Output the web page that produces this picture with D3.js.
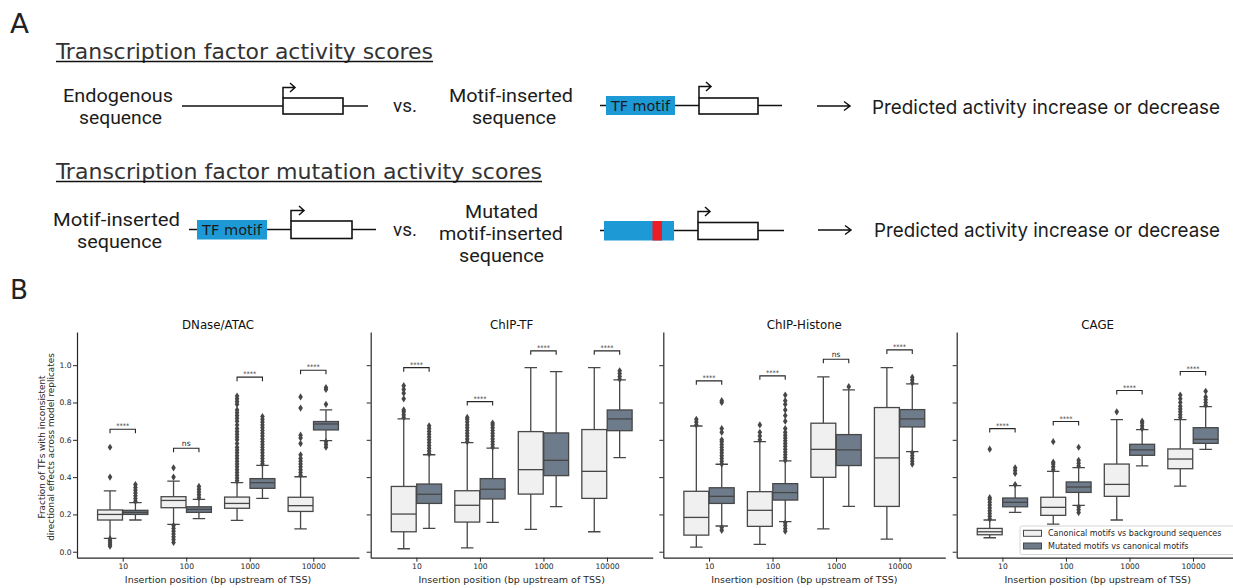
<!DOCTYPE html>
<html>
<head>
<meta charset="utf-8">
<script src="https://cdn.jsdelivr.net/npm/d3@7"></script>
<style>
  body { margin: 0; background: #fff; }
  svg { display: block; }
</style>
</head>
<body>
<svg id="fig" width="1233" height="588"></svg>
<script>
// ---------- data ----------
const positions = ['10', '100', '1000', '10000'];
const assays = ['DNase/ATAC', 'ChIP-TF', 'ChIP-Histone', 'CAGE'];
const groups = ['Canonical motifs vs background sequences', 'Mutated motifs vs canonical motifs'];
const yTicks = [0, 0.2, 0.4, 0.6, 0.8, 1.0];

// box stats per insertion position: [whisker low, q1, median, q3, whisker high]
const dnaseCanonical = [[0.072, 0.17, 0.20, 0.224, 0.326], [0.147, 0.236, 0.275, 0.295, 0.379], [0.168, 0.233, 0.259, 0.293, 0.37], [0.123, 0.216, 0.247, 0.292, 0.402]];
const dnaseMutated = [[0.17, 0.20, 0.211, 0.222, 0.263], [0.177, 0.211, 0.227, 0.241, 0.281], [0.286, 0.34, 0.37, 0.392, 0.463], [0.596, 0.653, 0.685, 0.698, 0.76]];
const chipTfCanonical = [[0.016, 0.107, 0.202, 0.35, 0.712], [0.021, 0.159, 0.249, 0.327, 0.585], [0.12, 0.309, 0.44, 0.644, 0.987], [0.107, 0.286, 0.431, 0.655, 0.987]];
const chipTfMutated = [[0.125, 0.259, 0.308, 0.363, 0.52], [0.157, 0.283, 0.335, 0.392, 0.555], [0.242, 0.408, 0.49, 0.637, 0.966], [0.504, 0.649, 0.712, 0.76, 0.921]];
const histoneCanonical = [[0.025, 0.089, 0.184, 0.324, 0.674], [0.039, 0.136, 0.222, 0.322, 0.59], [0.123, 0.399, 0.549, 0.689, 0.937], [0.068, 0.243, 0.503, 0.773, 0.987]];
const histoneMutated = [[0.138, 0.259, 0.297, 0.343, 0.469], [0.161, 0.277, 0.317, 0.365, 0.487], [0.243, 0.462, 0.546, 0.628, 0.868], [0.537, 0.669, 0.712, 0.762, 0.90]];
const cageCanonical = [[0.075, 0.091, 0.107, 0.125, 0.17], [0.148, 0.195, 0.238, 0.292, 0.431], [0.17, 0.297, 0.361, 0.47, 0.708], [0.352, 0.445, 0.497, 0.551, 0.708]];
const cageMutated = [[0.211, 0.241, 0.265, 0.288, 0.354], [0.249, 0.318, 0.347, 0.374, 0.451], [0.46, 0.517, 0.546, 0.576, 0.655], [0.549, 0.581, 0.603, 0.665, 0.778]];

// outliers per insertion position
const dnaseCanonicalOut = [
  [0.03, 0.04, 0.05, 0.06, 0.07, 0.40, 0.56],
  [0.05, 0.065, 0.08, 0.095, 0.11, 0.125, 0.14, 0.40, 0.45],
  [0.38, 0.395, 0.41, 0.425, 0.44, 0.455, 0.47, 0.485, 0.50, 0.515, 0.53, 0.545, 0.56, 0.58, 0.60, 0.615, 0.63, 0.645, 0.66, 0.68, 0.70, 0.715, 0.73, 0.745, 0.76, 0.79, 0.805, 0.82, 0.835],
  [0.41, 0.425, 0.44, 0.455, 0.47, 0.485, 0.50, 0.52, 0.58, 0.61, 0.625, 0.77, 0.83]
];
const dnaseMutatedOut = [
  [0.27, 0.285, 0.30, 0.315, 0.33, 0.345, 0.36],
  [0.29, 0.305, 0.32, 0.335, 0.35],
  [0.47, 0.485, 0.50, 0.515, 0.53, 0.545, 0.56, 0.575, 0.59, 0.605, 0.62, 0.635, 0.65, 0.665, 0.68, 0.695, 0.71, 0.725],
  [0.56, 0.575, 0.59, 0.79, 0.87, 0.88]
];
const chipTfCanonicalOut = [
  [0.72, 0.735, 0.75, 0.76, 0.82, 0.85, 0.87, 0.89],
  [0.59, 0.605, 0.62, 0.635, 0.65, 0.665, 0.68, 0.695, 0.71, 0.72],
  [],
  []
];
const chipTfMutatedOut = [
  [0.525, 0.54, 0.555, 0.57, 0.585, 0.60, 0.615, 0.63, 0.645, 0.66, 0.675],
  [0.56, 0.575, 0.59, 0.605, 0.62, 0.635, 0.65, 0.665, 0.68, 0.69],
  [],
  [0.925, 0.94, 0.955, 0.97]
];
const histoneCanonicalOut = [
  [0.68, 0.695, 0.71],
  [0.60, 0.62, 0.64, 0.68],
  [],
  []
];
const histoneMutatedOut = [
  [0.115, 0.13, 0.47, 0.485, 0.50, 0.515, 0.53, 0.545, 0.56, 0.575, 0.59, 0.60, 0.64, 0.66, 0.80, 0.81],
  [0.11, 0.125, 0.14, 0.155, 0.49, 0.505, 0.52, 0.535, 0.55, 0.565, 0.58, 0.595, 0.61, 0.625, 0.64, 0.66, 0.70, 0.73, 0.76, 0.79, 0.81, 0.84],
  [0.885],
  [0.47, 0.485, 0.50, 0.515, 0.53, 0.905, 0.92, 0.935]
];
const cageCanonicalOut = [
  [0.175, 0.19, 0.205, 0.22, 0.235, 0.25, 0.265, 0.28, 0.29, 0.55],
  [0.44, 0.455, 0.47, 0.48, 0.59],
  [0.75],
  [0.72, 0.735, 0.75, 0.765, 0.78, 0.80, 0.82, 0.84]
];
const cageMutatedOut = [
  [0.36, 0.42, 0.435, 0.45],
  [0.21, 0.225, 0.24, 0.46, 0.475, 0.49, 0.56],
  [0.66, 0.675, 0.69, 0.70],
  [0.785, 0.80, 0.815, 0.83, 0.86]
];

// significance annotations
const dnaseSig = ['****', 'ns', '****', '****'];
const dnaseBracket = [0.657, 0.555, 0.936, 0.973];
const chipTfSig = ['****', '****', '****', '****'];
const chipTfBracket = [0.987, 0.805, 1.077, 1.077];
const histoneSig = ['****', '****', 'ns', '****'];
const histoneBracket = [0.916, 0.943, 1.032, 1.082];
const cageSig = ['****', '****', '****', '****'];
const cageBracket = [0.66, 0.698, 0.864, 0.966];

// ---------- setup ----------
const svg = d3.select('#fig');
const ink = '#262626';
const lineGray = '#474747';
const boxColors = ['#eff0ef', '#6e7b8a'];
const motifBlue = '#1d9ad6';

// ---------- panel A (schematic) ----------
const a = svg.append('g');
const sans = 'Roboto, Inter, "Liberation Sans", sans-serif';
const narrow = '"Liberation Sans Narrow", "DejaVu Sans Condensed", sans-serif';

function txt(s, x, y, size, width, family, fill) {
  const t = a.append('text')
    .attr('x', x).attr('y', y)
    .attr('font-family', family || sans)
    .attr('font-size', size)
    .attr('fill', fill || '#1c1c1c')
    .text(s);
  if (width) t.attr('textLength', width).attr('lengthAdjust', 'spacingAndGlyphs');
  return t;
}
function hline(x0, x1, yy, w) {
  a.append('line').attr('x1', x0).attr('x2', x1).attr('y1', yy).attr('y2', yy)
    .attr('stroke', '#111').attr('stroke-width', w || 1.5);
}
function geneBox(x0, x1, y0, y1) {
  a.append('rect').attr('x', x0).attr('y', y0).attr('width', x1 - x0).attr('height', y1 - y0)
    .attr('fill', '#fff').attr('stroke', '#111').attr('stroke-width', 1.6);
}
function promoter(x0, yTop, yArrow, tip) {
  a.append('path')
    .attr('d', `M${x0},${yTop}V${yArrow}H${tip}M${tip - 5},${yArrow - 4.5}L${tip},${yArrow}L${tip - 5},${yArrow + 4.5}`)
    .attr('fill', 'none').attr('stroke', '#111').attr('stroke-width', 1.5);
}
function motif(x0, x1, y0, y1, label) {
  a.append('rect').attr('x', x0).attr('y', y0).attr('width', x1 - x0).attr('height', y1 - y0)
    .attr('fill', motifBlue);
  if (label) txt(label, x0 + 5, (y0 + y1) / 2 + 5, 14, x1 - x0 - 10, narrow, '#1a1a1a');
}
function longArrow(x0, x1, yy) {
  a.append('path')
    .attr('d', `M${x0},${yy}H${x1}M${x1 - 6},${yy - 4.5}L${x1},${yy}L${x1 - 6},${yy + 4.5}`)
    .attr('fill', 'none').attr('stroke', '#111').attr('stroke-width', 1.5);
}

txt('A', 10, 33, 27, 19, narrow, '#222');
txt('B', 10, 299, 27, 18, narrow, '#222');

txt('Transcription factor activity scores', 56, 59, 22, 377, narrow, '#333');
hline(56, 433, 61.5, 1.3);
txt('Transcription factor mutation activity scores', 56, 179, 22, 486, narrow, '#333');
hline(56, 542, 181.5, 1.3);

// row 1
txt('Endogenous', 63, 102, 18, 110);
txt('sequence', 79, 124, 18, 83);
hline(182, 283, 106);
geneBox(283, 343, 98, 114);
hline(343, 368, 106);
promoter(283, 98, 87.5, 295);
txt('vs.', 393, 112, 18, 24);
txt('Motif-inserted', 449, 102, 18, 124);
txt('sequence', 472, 124, 18, 84);
hline(600, 606, 105.5);
motif(606, 675, 96, 115, 'TF motif');
hline(675, 699, 105.5);
geneBox(699, 758, 98, 114);
hline(758, 782, 105.5);
promoter(699, 98, 86.5, 711);
longArrow(817, 850, 106);
txt('Predicted activity increase or decrease', 872, 114, 19, 348, 'Inter, Roboto, sans-serif');

// row 2
txt('Motif-inserted', 53, 226, 18, 127);
txt('sequence', 77, 248, 18, 85);
hline(189, 197, 229.5);
motif(197, 267, 220, 239.5, 'TF motif');
hline(267, 291, 229.5);
geneBox(291, 352, 221, 238.5);
hline(352, 376, 229.5);
promoter(291, 221, 210.5, 304);
txt('vs.', 393, 236, 18, 24);
txt('Mutated', 465, 217.5, 18, 73);
txt('motif-inserted', 439, 239.5, 18, 124);
txt('sequence', 459, 262, 18, 85);
hline(600, 604, 230.5);
motif(604, 674, 221, 240.5);
a.append('rect').attr('x', 652.5).attr('y', 221).attr('width', 9.5).attr('height', 19.5).attr('fill', '#ec1c24');
hline(674, 698, 230.5);
geneBox(698, 758, 222.5, 239.5);
hline(758, 784, 230.5);
promoter(698, 222.5, 211.5, 710);
longArrow(818, 851, 230);
txt('Predicted activity increase or decrease', 874, 237, 19, 346, 'Inter, Roboto, sans-serif');

// ---------- panel B (box plots) ----------
const panels = [
  { title: assays[0], boxes: [dnaseCanonical, dnaseMutated], outliers: [dnaseCanonicalOut, dnaseMutatedOut], sig: dnaseSig, bracket: dnaseBracket },
  { title: assays[1], boxes: [chipTfCanonical, chipTfMutated], outliers: [chipTfCanonicalOut, chipTfMutatedOut], sig: chipTfSig, bracket: chipTfBracket },
  { title: assays[2], boxes: [histoneCanonical, histoneMutated], outliers: [histoneCanonicalOut, histoneMutatedOut], sig: histoneSig, bracket: histoneBracket },
  { title: assays[3], boxes: [cageCanonical, cageMutated], outliers: [cageCanonicalOut, cageMutatedOut], sig: cageSig, bracket: cageBracket }
];

const y = d3.scaleLinear().domain([-0.032, 1.178]).range([557.7, 332]);
const panelLeft = [77, 370.7, 663.3, 956.7];
const panelWidth = 282;
const diamond = 'M0,-3.6L2.3,0L0,3.6L-2.3,0Z';

panels.forEach((p, i) => {
  const g = svg.append('g');
  const x = d3.scalePoint().domain(positions)
    .range([panelLeft[i], panelLeft[i] + panelWidth]).padding(0.72);
  const hue = d3.scaleBand().domain([0, 1]).range([-x.step() * 0.4, x.step() * 0.4]);
  const bw = hue.bandwidth() * 0.98;

  // axes
  const yAxis = d3.axisLeft(y).tickValues(yTicks).tickSize(4).tickPadding(1.5).tickSizeOuter(0)
    .tickFormat(i === 0 ? d3.format('.1f') : () => '');
  const ya = g.append('g').attr('transform', `translate(${panelLeft[i]},0)`).call(yAxis);
  const xa = g.append('g').attr('transform', `translate(0,${y.range()[0]})`)
    .call(d3.axisBottom(x).tickSize(4).tickPadding(2).tickSizeOuter(0));
  [ya, xa].forEach(ax => {
    ax.select('.domain').attr('stroke', ink).attr('stroke-width', 1.2);
    ax.selectAll('.tick line').attr('stroke', ink).attr('stroke-width', 1);
    ax.selectAll('.tick text').attr('fill', ink).attr('font-family', 'DejaVu Sans').attr('font-size', 7.6);
  });

  g.append('text')
    .attr('x', panelLeft[i] + panelWidth / 2).attr('y', 328.5)
    .attr('text-anchor', 'middle').attr('font-family', 'DejaVu Sans').attr('font-size', 11.8)
    .attr('fill', '#111').text(p.title);
  g.append('text')
    .attr('x', panelLeft[i] + panelWidth / 2).attr('y', 582.5)
    .attr('text-anchor', 'middle').attr('font-family', 'DejaVu Sans').attr('font-size', 9.5)
    .attr('fill', ink).text('Insertion position (bp upstream of TSS)');

  // boxes
  positions.forEach((pos, j) => {
    [0, 1].forEach(k => {
      const [lo, q1, med, q3, hi] = p.boxes[k][j];
      const cx = x(pos) + hue(k) + hue.bandwidth() / 2;
      const b = g.append('g');
      b.append('path')
        .attr('d', `M${cx},${y(q1)}V${y(lo)}M${cx},${y(q3)}V${y(hi)}` +
          `M${cx - bw / 4},${y(lo)}H${cx + bw / 4}M${cx - bw / 4},${y(hi)}H${cx + bw / 4}`)
        .attr('stroke', lineGray).attr('stroke-width', 1.3).attr('fill', 'none');
      b.append('rect')
        .attr('x', cx - bw / 2).attr('y', y(q3))
        .attr('width', bw).attr('height', y(q1) - y(q3))
        .attr('fill', boxColors[k]).attr('stroke', lineGray).attr('stroke-width', 1.3);
      b.append('line')
        .attr('x1', cx - bw / 2).attr('x2', cx + bw / 2)
        .attr('y1', y(med)).attr('y2', y(med))
        .attr('stroke', lineGray).attr('stroke-width', 1.3);
      b.selectAll('path.flier').data(p.outliers[k][j]).enter()
        .append('path').attr('class', 'flier')
        .attr('d', diamond)
        .attr('transform', v => `translate(${cx},${y(v)})`)
        .attr('fill', lineGray);
    });

    // significance bracket
    const xl = x(pos) + hue(0) + hue.bandwidth() / 2;
    const xr = x(pos) + hue(1) + hue.bandwidth() / 2;
    const yb = y(p.bracket[j]);
    g.append('path')
      .attr('d', `M${xl},${yb + 4}V${yb}H${xr}V${yb + 4}`)
      .attr('fill', 'none').attr('stroke', ink).attr('stroke-width', 1.1);
    g.append('text')
      .attr('x', (xl + xr) / 2).attr('y', p.sig[j] === 'ns' ? yb - 2 : yb - 1)
      .attr('text-anchor', 'middle').attr('font-family', 'DejaVu Sans')
      .attr('font-size', p.sig[j] === 'ns' ? 7.6 : 6.5).attr('fill', ink)
      .text(p.sig[j]);
  });

  // legend in last panel
  if (i === panels.length - 1) {
    const lg = g.append('g');
    lg.append('rect').attr('x', 1020).attr('y', 526).attr('width', 230).attr('height', 28.5)
      .attr('rx', 2).attr('fill', '#fff').attr('fill-opacity', 0.85)
      .attr('stroke', '#d6d6d6').attr('stroke-width', 1);
    groups.forEach((name, k) => {
      const ly = 533.3 + k * 12.7;
      lg.append('rect').attr('x', 1023.5).attr('y', ly - 3).attr('width', 18).attr('height', 6)
        .attr('fill', boxColors[k]).attr('stroke', lineGray).attr('stroke-width', 1);
      lg.append('text').attr('x', 1048).attr('y', ly + 2.9)
        .attr('font-family', 'DejaVu Sans').attr('font-size', 8).attr('fill', ink)
        .text(name);
    });
  }
});

// shared y label
const yl = svg.append('text')
  .attr('transform', 'translate(45,447) rotate(-90)')
  .attr('text-anchor', 'middle').attr('font-family', 'DejaVu Sans')
  .attr('font-size', 8.9).attr('fill', ink);
yl.append('tspan').attr('x', 0).attr('dy', 0).text('Fraction of TFs with inconsistent');
yl.append('tspan').attr('x', 0).attr('dy', 8.6).text('directional effects across model replicates');
</script>
</body>
</html>
